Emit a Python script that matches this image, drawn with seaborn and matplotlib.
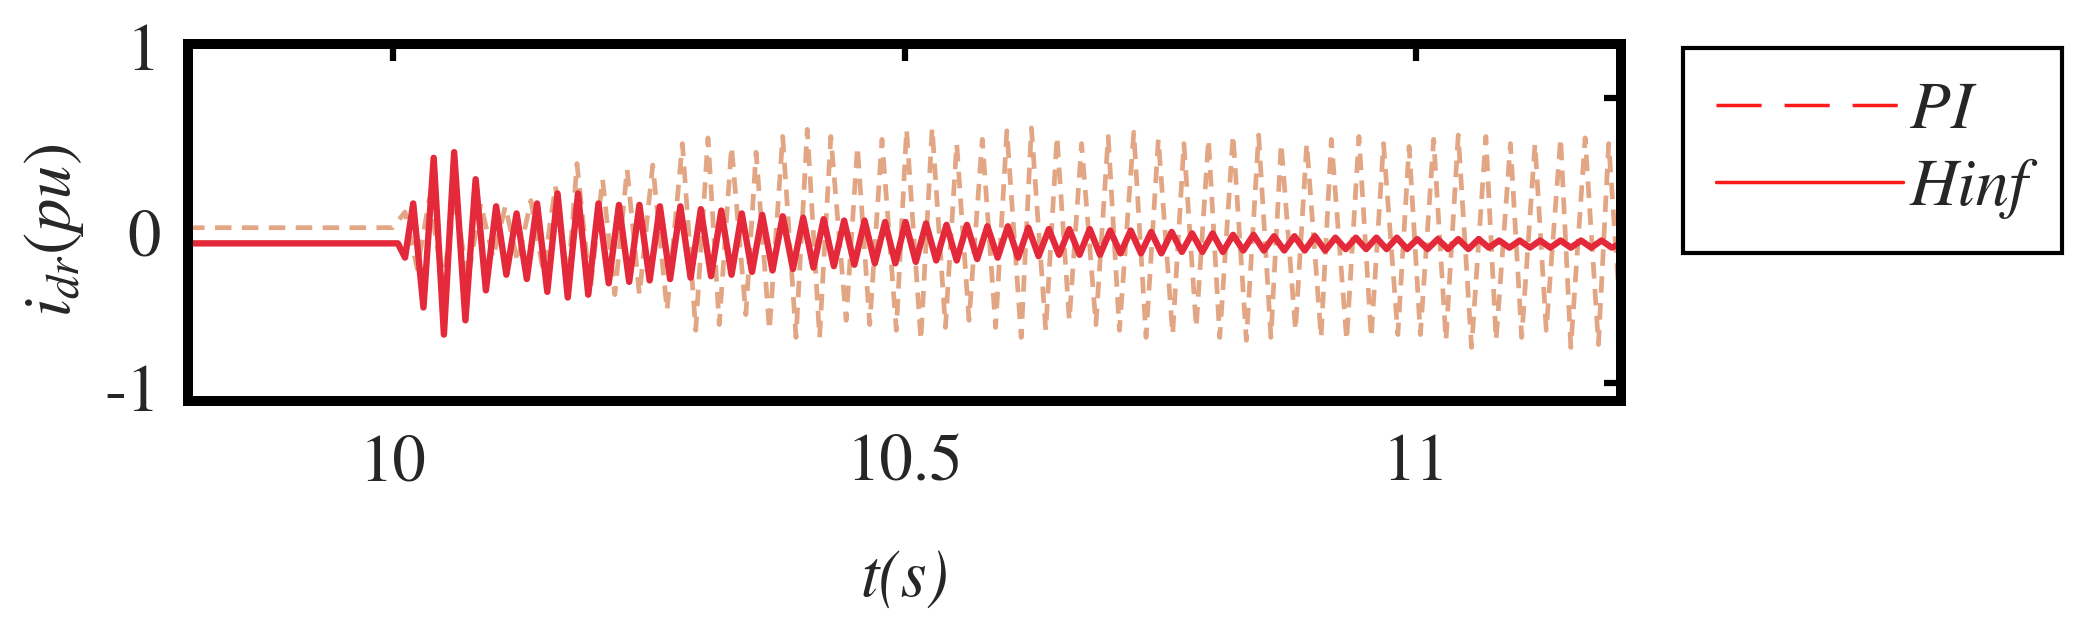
import matplotlib
matplotlib.use('Agg')
import matplotlib.pyplot as plt
from matplotlib.lines import Line2D
import seaborn as sns
import pandas as pd

# Hinf: extrema (time in s, current in pu)
hinf_t = [9.800, 10.005, 10.012,
          10.020, 10.030, 10.040, 10.050, 10.060, 10.071, 10.081, 10.091, 10.101, 10.111,
          10.121, 10.131, 10.141, 10.151, 10.161, 10.171, 10.181, 10.191, 10.201, 10.211,
          10.221, 10.231, 10.241, 10.251, 10.261, 10.271, 10.281, 10.291, 10.301, 10.311,
          10.321, 10.331, 10.341, 10.351, 10.361, 10.371, 10.381, 10.391, 10.401, 10.411,
          10.421, 10.431, 10.441, 10.451, 10.461, 10.471, 10.481, 10.491, 10.501, 10.511,
          10.521, 10.531, 10.541, 10.551, 10.561, 10.571, 10.581, 10.591, 10.601, 10.611,
          10.621, 10.631, 10.641, 10.651, 10.661, 10.671, 10.681, 10.691, 10.701, 10.711,
          10.721, 10.731, 10.741, 10.751, 10.761, 10.771, 10.781, 10.791, 10.801, 10.811,
          10.821, 10.831, 10.841, 10.851, 10.861, 10.871, 10.881, 10.891, 10.901, 10.911,
          10.921, 10.931, 10.941, 10.951, 10.961, 10.971, 10.981, 10.991, 11.001, 11.011,
          11.021, 11.031, 11.041, 11.051, 11.061, 11.071, 11.081, 11.091, 11.101, 11.111,
          11.121, 11.131, 11.141, 11.151, 11.161, 11.171, 11.181, 11.191, 11.200]
hinf_y = [-0.02, -0.02, -0.12,
          0.26, -0.47, 0.58, -0.66, 0.62, -0.56, 0.43, -0.35, 0.24, -0.24,
          0.19, -0.27, 0.26, -0.36, 0.33, -0.40, 0.33, -0.38, 0.26, -0.30,
          0.25, -0.29, 0.25, -0.28, 0.24, -0.27, 0.24, -0.26, 0.22, -0.25,
          0.21, -0.24, 0.19, -0.22, 0.18, -0.21, 0.17, -0.20, 0.16, -0.19,
          0.15, -0.18, 0.14, -0.17, 0.14, -0.16, 0.13, -0.16, 0.13, -0.15,
          0.12, -0.14, 0.11, -0.14, 0.11, -0.13, 0.10, -0.12, 0.10, -0.12,
          0.09, -0.11, 0.08, -0.10, 0.08, -0.10, 0.08, -0.10, 0.07, -0.09,
          0.07, -0.09, 0.06, -0.09, 0.06, -0.08, 0.05, -0.08, 0.05, -0.08,
          0.04, -0.07, 0.04, -0.07, 0.03, -0.07, 0.03, -0.07, 0.03, -0.07,
          0.02, -0.06, 0.02, -0.06, 0.02, -0.06, 0.02, -0.06, 0.01, -0.06,
          0.01, -0.06, 0.01, -0.06, 0.01, -0.05, 0.00, -0.05, 0.00, -0.05,
          0.00, -0.05, 0.00, -0.05, 0.00, -0.05, 0.00, -0.05, -0.02]

# PI: extrema
pi_t = [9.800, 10.000,
        10.012, 10.024, 10.036, 10.049, 10.061, 10.073, 10.086, 10.098, 10.110, 10.122,
        10.135, 10.147, 10.159, 10.171, 10.180, 10.193, 10.205, 10.217, 10.229, 10.241,
        10.254, 10.268, 10.283, 10.296, 10.308, 10.319, 10.331, 10.345, 10.355, 10.368,
        10.381, 10.394, 10.405, 10.417, 10.428, 10.443, 10.454, 10.466, 10.478, 10.492,
        10.502, 10.516, 10.527, 10.540, 10.551, 10.563, 10.576, 10.589, 10.600, 10.614,
        10.624, 10.638, 10.649, 10.661, 10.673, 10.687, 10.699, 10.710, 10.724, 10.736,
        10.748, 10.762, 10.773, 10.785, 10.797, 10.808, 10.821, 10.834, 10.846, 10.858,
        10.868, 10.882, 10.893, 10.907, 10.917, 10.932, 10.944, 10.956, 10.968, 10.982,
        10.993, 11.004, 11.017, 11.029, 11.041, 11.054, 11.068, 11.078, 11.092, 11.103,
        11.116, 11.127, 11.141, 11.151, 11.165, 11.178, 11.188, 11.200]
pi_y = [0.09, 0.09,
        0.20, -0.20, 0.30, -0.30, 0.30, -0.28, 0.26, -0.12, 0.24, -0.15,
        0.28, -0.22, 0.38, -0.30, 0.54, -0.35, 0.43, -0.38, 0.50, -0.38,
        0.53, -0.49, 0.68, -0.63, 0.72, -0.59, 0.66, -0.52, 0.62, -0.63,
        0.73, -0.68, 0.78, -0.68, 0.73, -0.56, 0.66, -0.59, 0.71, -0.63,
        0.78, -0.70, 0.79, -0.61, 0.68, -0.56, 0.71, -0.61, 0.77, -0.68,
        0.79, -0.63, 0.73, -0.56, 0.68, -0.59, 0.73, -0.63, 0.76, -0.68,
        0.71, -0.66, 0.68, -0.61, 0.71, -0.68, 0.74, -0.70, 0.74, -0.68,
        0.68, -0.63, 0.68, -0.68, 0.71, -0.70, 0.73, -0.68, 0.68, -0.66,
        0.66, -0.66, 0.71, -0.70, 0.74, -0.75, 0.73, -0.70, 0.68, -0.68,
        0.68, -0.63, 0.72, -0.75, 0.72, -0.73, 0.68, -0.58]

series_names = ['PI', 'Hinf']
x_ticks = [10, 10.5, 11]
x_tick_labels = ['10', '10.5', '11']
y_tick_labels = ['-1', '0', '1']

sns.set_style('white')
# Times-like serif shipped with matplotlib
plt.rcParams['font.family'] = ['STIXGeneral', 'DejaVu Serif']
plt.rcParams['mathtext.fontset'] = 'stix'

df_pi = pd.DataFrame({'t': pi_t, 'i': pi_y})
df_hinf = pd.DataFrame({'t': hinf_t, 'i': hinf_y})

fig = plt.figure(figsize=(20.87, 6.22), dpi=100)
ax = fig.add_axes([0.0901, 0.3553, 0.6866, 0.5740])

sns.lineplot(data=df_pi, x='t', y='i', ax=ax, color='#e2a684', linewidth=3.4,
             linestyle=(0, (3.5, 2.2)), estimator=None, sort=False, legend=False)
sns.lineplot(data=df_hinf, x='t', y='i', ax=ax, color='#e3293a', linewidth=4.6,
             estimator=None, sort=False, legend=False, solid_joinstyle='round')

ax.set_xlim(9.8, 11.2)
ax.set_ylim(-1.126, 1.379)
ax.set_xticks(x_ticks)
ax.set_xticklabels(x_tick_labels)
# tick marks sit at +-1, the labels in the picture are shifted
ax.set_yticks([-1, 1])
ax.set_yticklabels([])
ax.set_yticks([-1.035, 0.053, 1.358], minor=True)
ax.set_yticklabels(y_tick_labels, minor=True)

ax.tick_params(axis='both', which='major', direction='in', length=12, width=4.5,
               top=True, right=True, labelsize=48, color='black')
ax.tick_params(axis='x', which='major', pad=24)
ax.tick_params(axis='y', which='minor', length=0, labelsize=48, pad=20)

for s in ax.spines.values():
    s.set_linewidth(7.2)
    s.set_color('black')

ax.set_xlabel('t(s)', fontsize=48, fontstyle='italic', va='center')
ax.xaxis.set_label_coords(0.5, -0.50)
ax.set_ylabel(r'$\mathit{i_{dr}(pu)}$', fontsize=48, va='center')
ax.yaxis.set_label_coords(-0.0935, 0.479)

handles = [Line2D([], [], color='#ff1a1a', lw=2.5, linestyle=(0, (13, 6.6))),
           Line2D([], [], color='#ff1a1a', lw=2.5)]
leg = fig.legend(handles, series_names, loc='upper left',
                 bbox_to_anchor=(1683 / 2087, 1 - 48 / 622),
                 frameon=True, fancybox=False, edgecolor='black',
                 prop={'family': 'STIXGeneral', 'style': 'italic', 'size': 48},
                 handlelength=2.8, handletextpad=0.1, labelspacing=0.25,
                 borderpad=0.5, borderaxespad=0)
leg.get_frame().set_linewidth(3)
leg.get_frame().set_alpha(1)

plt.savefig('out.png', dpi=100)
plt.close()
